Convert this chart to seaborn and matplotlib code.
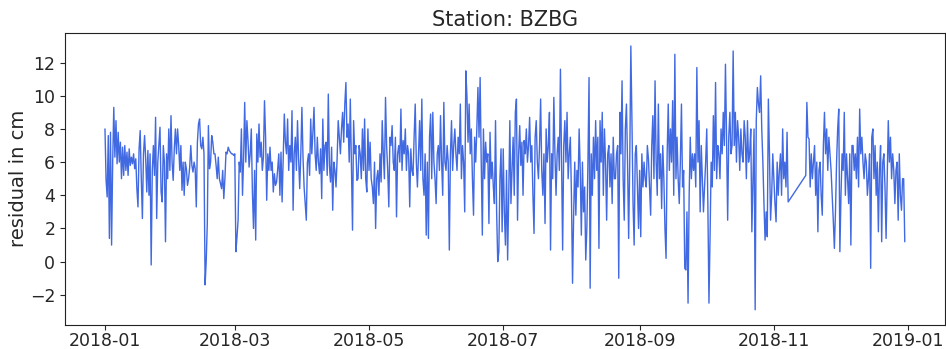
import matplotlib
matplotlib.use("Agg")
import matplotlib.pyplot as plt
import matplotlib.dates as mdates
import pandas as pd
import seaborn as sns

# Residuals in cm at 12-hour steps, one list per month
jan = [8.0, 4.9, 3.9, 7.6, 1.4, 7.8, 1.0, 6.0, 9.3, 6.3, 8.5, 5.9, 7.8, 6.0, 7.2, 5.0,
       6.9, 5.2, 7.0, 5.5, 6.6, 5.2, 6.8, 5.8, 6.3, 5.9, 6.5, 5.6, 6.2, 4.4, 3.3, 6.8,
       7.9, 5.0, 2.6, 6.5, 7.6, 6.2, 4.2, 6.7, 4.0, 6.5, -0.2, 5.5, 7.0, 5.2, 8.7, 2.6,
       6.0, 7.0, 8.1, 4.2, 3.6, 7.0, 6.0, 1.2, 6.5, 5.0, 8.0, 5.5, 8.8, 6.0]
feb = [4.9, 6.8, 8.0, 6.5, 8.0, 7.0, 5.5, 7.0, 4.3, 6.0, 4.0, 6.0, 5.6, 4.6, 5.0, 5.7,
       7.0, 5.8, 5.4, 6.0, 5.6, 3.3, 7.2, 8.3, 8.6, 7.0, 6.8, 7.5, 6.5, -1.4, 0.0, 2.3,
       8.2, 5.6, 6.0, 7.6, 7.2, 6.5, 6.5, 5.8, 5.0, 6.3, 5.0, 4.7, 4.4, 5.5, 3.8, 5.0,
       6.6, 6.5, 6.9, 6.7, 6.6, 6.5, 6.5, 6.4]
mar = [6.5, 0.6, 1.5, 2.5, 6.0, 5.4, 8.0, 4.0, 6.2, 9.6, 6.0, 8.5, 7.3, 5.7, 6.5, 8.0,
       4.2, 2.0, 5.5, 1.3, 7.7, 6.0, 8.3, 6.3, 7.2, 5.5, 6.3, 9.7, 7.5, 3.7, 6.5, 5.5,
       6.9, 5.5, 6.0, 4.2, 5.3, 4.6, 4.8, 5.6, 6.5, 4.0, 6.6, 3.6, 6.2, 8.9, 7.2, 6.5,
       8.6, 5.5, 7.0, 6.0, 9.1, 3.1, 6.5, 7.5, 5.5, 8.5, 6.2, 4.4, 6.5, 9.3]
apr = [6.3, 4.5, 3.5, 2.5, 6.0, 6.5, 5.2, 8.6, 6.5, 7.8, 9.3, 6.5, 5.5, 7.5, 6.0, 5.3,
       6.8, 3.8, 8.6, 5.5, 7.0, 7.2, 5.2, 10.1, 5.8, 4.8, 6.9, 3.1, 6.0, 5.5, 4.5, 6.2,
       8.5, 7.5, 6.5, 8.0, 9.0, 7.2, 9.5, 10.8, 7.5, 8.3, 6.0, 9.8, 6.0, 1.9, 8.5, 6.5,
       7.0, 4.9, 5.0, 7.0, 6.5, 5.0, 8.0, 5.5, 8.6, 5.0, 4.2, 8.0]
may = [5.5, 7.2, 5.0, 4.5, 3.5, 6.0, 2.0, 5.0, 5.5, 4.0, 6.5, 4.8, 8.5, 6.5, 5.0, 9.9,
       7.0, 5.5, 3.3, 7.5, 7.0, 8.2, 6.0, 5.5, 7.5, 2.7, 6.5, 7.0, 6.0, 9.2, 5.5, 7.3,
       6.5, 8.0, 5.5, 7.0, 6.5, 3.3, 6.8, 5.5, 5.2, 7.5, 9.5, 6.0, 4.5, 6.5, 8.5, 5.5,
       9.8, 5.0, 4.0, 6.5, 1.6, 6.0, 1.4, 7.5, 8.9, 5.0, 9.0, 6.0, 5.0, 3.5]
jun = [6.5, 7.0, 5.5, 8.8, 6.0, 4.0, 9.6, 6.0, 5.5, 7.0, 6.0, 0.7, 6.5, 8.5, 5.5, 7.0,
       8.0, 6.5, 5.5, 7.5, 6.5, 9.5, 5.0, 7.0, 6.0, 3.0, 11.5, 10.0, 7.2, 9.5, 6.5, 8.0,
       5.0, 2.8, 7.5, 6.0, 8.0, 10.5, 7.5, 11.1, 6.0, 1.6, 8.0, 5.0, 7.2, 6.0, 6.5, 2.3,
       7.8, 5.0, 6.0, 4.5, 3.5, 8.5, 3.0, 0.0, 0.6, 5.0, 6.8, 1.8]
jul = [6.8, 3.0, 1.0, 5.5, 0.1, 4.0, 8.5, 3.5, 5.5, 7.5, 4.0, 9.0, 9.8, 2.5, 6.5, 8.2,
       5.8, 7.2, 4.0, 7.3, 6.5, 8.0, 6.0, 7.0, 8.7, 6.0, 7.0, 4.0, 1.7, 7.5, 8.5, 6.0,
       5.0, 7.0, 9.8, 5.5, 4.0, 6.5, 2.3, 8.0, 6.0, 7.0, 9.0, 0.7, 6.5, 5.0, 9.9, 6.5,
       4.0, 6.5, 7.5, 5.5, 11.6, 6.0, 0.7, 7.0, 8.5, 6.0, 9.0, 5.0, 6.5, 7.5]
aug = [4.0, -1.3, 2.8, 6.0, 2.8, 5.5, 4.5, 8.0, 5.5, 1.6, 6.0, 3.0, 4.5, 0.1, 2.0, 6.0,
       11.1, -1.6, 6.5, 4.0, 7.5, 5.0, 8.5, 5.5, 7.5, 0.8, 8.5, 6.0, 9.0, 4.0, 8.0, 6.0,
       2.5, 6.5, 7.0, 4.5, 6.5, 3.5, 7.5, 5.0, 5.0, 6.5, 7.0, -1.0, 9.0, 6.5, 10.9, 5.0,
       2.5, 8.0, 9.5, 6.0, 1.4, 6.0, 13.0, 8.5, 3.5, 1.0, 6.5, 7.0, 4.5, 2.0]
sep = [5.5, 1.5, 6.5, 4.5, 6.0, 5.0, 4.5, 7.0, 6.2, 4.5, 2.8, 7.0, 8.8, 5.0, 10.9, 6.0,
       4.0, 9.5, 5.0, 6.5, 3.2, 7.0, 5.0, 2.0, 0.2, 6.5, 9.5, 5.5, 8.0, 6.0, 9.7, 4.0,
       12.5, 5.0, 7.5, 5.0, 3.5, 6.0, 9.5, 4.5, 5.5, -0.4, -0.5, 3.0, -2.5, 4.0, 7.5, 5.0,
       6.5, 5.5, 6.5, 4.5, 11.7, 6.0, 8.5, 3.0, 7.0, 5.0, 3.0, 4.5]
oct = [6.0, 8.0, 3.5, -2.5, 1.5, 6.0, 4.5, 8.8, 5.5, 10.8, 5.0, 7.0, 6.5, 5.0, 8.0, 6.5,
       9.0, 7.0, 11.9, 7.5, 2.5, 7.5, 9.0, 6.5, 7.0, 12.7, 7.0, 9.0, 6.0, 8.5, 7.5, 5.5,
       8.0, 6.5, 6.0, 8.5, 7.5, 5.0, 8.5, 6.0, 6.5, 8.0, 1.8, 5.0, 8.0, -2.9, 8.5, 10.5,
       9.5, 9.0, 11.2, 8.0, 6.0, 3.5, 1.3, 3.0, 1.5, 9.8, 6.5, 2.5, 4.0, 6.5]
# November has no records between the 7th and the 15th
nov_early = [5.0, 3.5, 2.4, 6.0, 4.0, 5.5, 6.5, 4.0, 8.0, 5.0, 6.0, 4.5, 7.8, 3.6]
nov_late = [5.2, 9.6, 7.5, 7.4, 4.5, 6.5, 5.0, 6.0, 7.0, 4.0, 6.0, 1.8, 5.5, 6.0, 4.0,
            2.8, 7.0, 9.0, 6.5, 8.0, 5.5, 7.5, 6.5, 5.5, 4.0, 2.5, 0.8, 3.0, 6.0, 8.0, 9.2]
dec = [0.6, 4.0, 6.5, 5.5, 9.0, 4.0, 6.5, 5.0, 3.5, 6.5, 1.0, 7.0, 7.0, 5.5, 6.5, 5.0,
       7.5, 4.5, 9.2, 6.5, 7.5, 6.0, 5.0, 6.5, 6.0, 4.0, 5.0, 6.5, -0.4, 7.5, 8.0, 5.0,
       7.0, 4.0, 6.0, 1.8, 5.5, 7.0, 1.2, 6.0, 6.5, 4.5, 1.4, 5.0, 8.5, 6.0, 7.5, 5.0,
       6.5, 5.5, 3.5, 5.5, 6.0, 2.5, 6.5, 4.0, 3.1, 5.0, 5.0, 1.2]

segments = [
    ("2018-01-01", jan), ("2018-02-01", feb), ("2018-03-01", mar),
    ("2018-04-01", apr), ("2018-05-01", may), ("2018-06-01", jun),
    ("2018-07-01", jul), ("2018-08-01", aug), ("2018-09-01", sep),
    ("2018-10-01", oct), ("2018-11-01", nov_early), ("2018-11-15 12:00", nov_late),
    ("2018-12-01", dec),
]

frames = []
for start, vals in segments:
    times = pd.date_range(start, periods=len(vals), freq="12h")
    frames.append(pd.DataFrame({"time": times, "residual": vals}))
df = pd.concat(frames, ignore_index=True)

sns.set_theme(style="ticks")
plt.rcParams["font.family"] = ["DejaVu Sans"]

fig = plt.figure(figsize=(9.46, 3.49), dpi=100)
ax = fig.add_axes([0.0687, 0.0696, 0.930, 0.8367])

sns.lineplot(data=df, x="time", y="residual", ax=ax, color="royalblue",
             linewidth=1.0, estimator=None, sort=False)

ax.set_title("Station: BZBG", fontsize=15, pad=5)
ax.set_xlabel("")
ax.set_ylabel("residual in cm", fontsize=14, labelpad=1)
ax.set_ylim(-3.8, 13.8)
ax.set_yticks([-2, 0, 2, 4, 6, 8, 10, 12])
ax.xaxis.set_major_locator(mdates.MonthLocator(bymonth=[1, 3, 5, 7, 9, 11]))
ax.xaxis.set_major_formatter(mdates.DateFormatter("%Y-%m"))
ax.tick_params(axis="both", labelsize=12.5, length=3.5, width=0.8)
ax.tick_params(axis="x", pad=1.5)
for spine in ax.spines.values():
    spine.set_linewidth(0.8)
    spine.set_color("#222222")

fig.savefig("out.png", dpi=100)
